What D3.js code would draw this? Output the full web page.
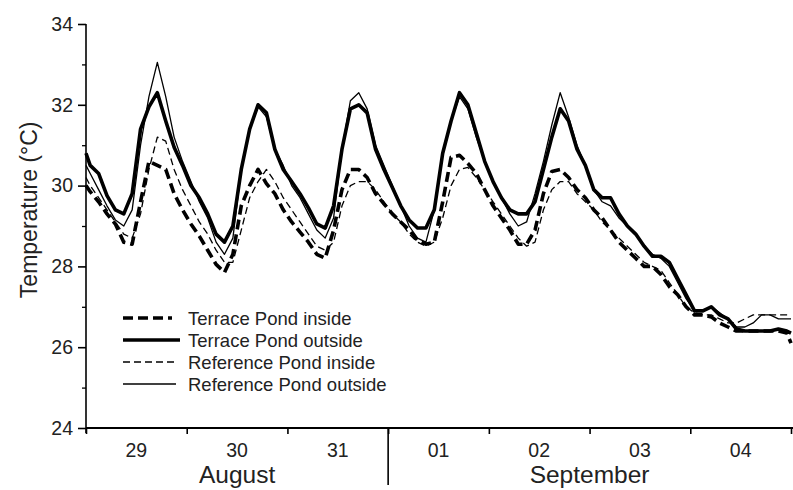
<!DOCTYPE html>
<html>
<head>
<meta charset="utf-8">
<script src="https://cdn.jsdelivr.net/npm/d3@7.9.0/dist/d3.min.js"></script>
<style>
  body { margin: 0; background: #fff; }
  svg { display: block; font-family: "Liberation Sans", Arial, Helvetica, sans-serif; }
</style>
</head>
<body>
<svg id="chart" width="793" height="490"></svg>
<script>
// sample times in hours from 29 Aug 00:00 (0, then every 2 h at odd hours, then 168)
const hours = [0, ...d3.range(1, 168, 2), 168];

const dayLabels = ['29', '30', '31', '01', '02', '03', '04'];
const months = [
  { name: 'August', from: 0, to: 72 },
  { name: 'September', from: 72, to: 168 }
];
const yTicks = [24, 26, 28, 30, 32, 34];
const yMinor = [25, 27, 29, 31, 33];

// Terrace Pond inside (thick dashed)
const terraceInside = [
  30.0, 29.85, 29.6, 29.3, 29.05, 28.6, 28.55, 29.6, 30.6, 30.5, 30.4, 29.8, 29.4,
  29.05, 28.75, 28.4, 28.05, 27.85, 28.3, 29.5, 30.0, 30.4, 30.05, 29.8, 29.4,
  29.1, 28.85, 28.6, 28.3, 28.2, 28.9, 29.9, 30.4, 30.4, 30.2, 29.8, 29.55,
  29.3, 29.1, 28.9, 28.65, 28.55, 28.6, 29.6, 30.7, 30.75, 30.55, 30.3, 29.9,
  29.5, 29.2, 28.9, 28.55, 28.55, 28.9, 29.8, 30.35, 30.4, 30.2, 29.9, 29.7,
  29.4, 29.2, 28.9, 28.6, 28.4, 28.2, 28.0, 28.0, 27.8, 27.5, 27.3, 27.0,
  26.8, 26.8, 26.75, 26.6, 26.5, 26.4, 26.4, 26.4, 26.4, 26.4, 26.4, 26.35, 26.1
];

// Terrace Pond outside (thick solid)
const terraceOutside = [
  30.8, 30.5, 30.3, 29.75, 29.4, 29.3, 29.8, 31.4, 31.95, 32.3, 31.6, 30.95, 30.5,
  30.0, 29.7, 29.3, 28.8, 28.6, 29.0, 30.4, 31.4, 32.0, 31.8, 30.9, 30.4,
  30.1, 29.8, 29.45, 29.05, 28.95, 29.5, 30.9, 31.9, 32.0, 31.8, 30.9, 30.4,
  29.95, 29.5, 29.15, 28.95, 28.95, 29.4, 30.8, 31.6, 32.3, 32.0, 31.3, 30.6,
  30.1, 29.7, 29.4, 29.3, 29.3, 29.6, 30.4, 31.2, 31.9, 31.6, 30.9, 30.5,
  29.9, 29.7, 29.7, 29.3, 29.0, 28.8, 28.5, 28.25, 28.25, 28.1, 27.7, 27.3,
  26.9, 26.9, 27.0, 26.8, 26.7, 26.45, 26.4, 26.4, 26.4, 26.4, 26.45, 26.4, 26.35
];

// Reference Pond inside (thin dashed)
const referenceInside = [
  30.2, 30.0, 29.7, 29.4, 29.1, 28.8, 28.7, 29.3, 30.4, 31.2, 31.1, 30.4, 29.9,
  29.5, 29.1, 28.8, 28.4, 28.1, 28.1, 28.9, 29.7, 30.1, 30.4, 30.1, 29.7,
  29.4, 29.1, 28.8, 28.5, 28.4, 28.6, 29.5, 30.0, 30.1, 30.1, 29.9, 29.6,
  29.3, 29.1, 28.8, 28.6, 28.5, 28.6, 29.2, 30.0, 30.4, 30.45, 30.2, 29.9,
  29.6, 29.3, 29.0, 28.7, 28.5, 28.6, 29.4, 29.9, 30.1, 30.1, 29.8, 29.6,
  29.4, 29.1, 28.9, 28.7, 28.5, 28.3, 28.1, 28.0, 27.9, 27.6, 27.3, 27.0,
  26.85, 26.8, 26.8, 26.7, 26.6, 26.6, 26.7, 26.8, 26.8, 26.8, 26.8, 26.8, 26.8
];

// Reference Pond outside (thin solid)
const referenceOutside = [
  30.5, 30.3, 29.9, 29.5, 29.15, 29.0, 29.4, 31.0, 32.2, 33.05, 32.2, 31.2, 30.6,
  30.1, 29.6, 29.2, 28.6, 28.3, 28.7, 30.4, 31.4, 31.95, 31.7, 30.9, 30.5,
  30.0, 29.7, 29.3, 28.9, 28.7, 29.2, 30.9, 32.1, 32.3, 31.9, 31.0, 30.5,
  30.0, 29.5, 29.0, 28.7, 28.6, 29.4, 30.8, 31.6, 32.2, 31.9, 31.2, 30.6,
  30.1, 29.7, 29.3, 29.0, 29.1, 29.8, 30.6, 31.5, 32.3, 31.7, 31.0, 30.5,
  29.9, 29.6, 29.5, 29.2, 29.0, 28.8, 28.5, 28.3, 28.2, 28.0, 27.6, 27.2,
  26.9, 26.9, 27.0, 26.85, 26.7, 26.5, 26.5, 26.6, 26.8, 26.8, 26.7, 26.7, 26.7
];

const series = [
  { name: 'Terrace Pond inside', values: terraceInside, width: 3.6, dash: '10,5', legendLen: 49 },
  { name: 'Terrace Pond outside', values: terraceOutside, width: 3.6, dash: null, legendLen: 57 },
  { name: 'Reference Pond inside', values: referenceInside, width: 1.3, dash: '7,4', legendLen: 53 },
  { name: 'Reference Pond outside', values: referenceOutside, width: 1.3, dash: null, legendLen: 53 }
];

const svg = d3.select('#chart');
const x = d3.scaleLinear().domain([0, 168]).range([86, 791]);
const y = d3.scaleLinear().domain([24, 34]).range([428, 24]);

// --- lines ---
const line = d3.line()
  .x((d, i) => x(hours[i]))
  .y(d => y(d));

series.forEach(s => {
  svg.append('path')
    .datum(s.values)
    .attr('d', line)
    .attr('fill', 'none')
    .attr('stroke', '#000')
    .attr('stroke-width', s.width)
    .attr('stroke-linejoin', 'round')
    .attr('stroke-dasharray', s.dash);
});

// --- y axis ---
const yAxis = svg.append('g')
  .attr('transform', 'translate(86,0)')
  .call(d3.axisLeft(y).tickValues(yTicks).tickSize(8).tickPadding(5));
yAxis.select('.domain').attr('stroke-width', 1.6).attr('d', 'M0,24V433');
yAxis.selectAll('.tick line').attr('stroke-width', 1.6);
yAxis.selectAll('.tick text')
  .attr('font-size', 19.5)
  .attr('font-family', '"Liberation Sans", Arial, sans-serif')
  .attr('fill', '#222');

svg.append('g')
  .attr('transform', 'translate(86,0)')
  .call(d3.axisLeft(y).tickValues(yMinor).tickSize(4).tickFormat(''))
  .call(g => g.select('.domain').remove())
  .selectAll('.tick line').attr('stroke-width', 1.3);

svg.append('text')
  .attr('transform', `translate(37,${y(29.4)}) rotate(-90)`)
  .attr('text-anchor', 'middle')
  .attr('font-size', 23)
  .attr('fill', '#222')
  .text('Temperature (°C)');

// --- x axis ---
const xAxis = svg.append('g')
  .attr('transform', 'translate(0,428)')
  .call(d3.axisBottom(x).tickValues(d3.range(0, 169, 24)).tickSize(6).tickFormat(''));
xAxis.select('.domain').attr('stroke-width', 2).attr('d', 'M86,0H793');
xAxis.selectAll('.tick line').attr('stroke-width', 1.6);

svg.selectAll('.day')
  .data(dayLabels)
  .enter()
  .append('text')
  .attr('class', 'day')
  .attr('x', (d, i) => x(i * 24 + 12))
  .attr('y', 457)
  .attr('text-anchor', 'middle')
  .attr('font-size', 19.5)
  .attr('fill', '#222')
  .text(d => d);

svg.selectAll('.month')
  .data(months)
  .enter()
  .append('text')
  .attr('class', 'month')
  .attr('x', d => (x(d.from) + x(d.to)) / 2)
  .attr('y', 483)
  .attr('text-anchor', 'middle')
  .attr('font-size', 24.5)
  .attr('fill', '#222')
  .text(d => d.name);

// month separator
svg.append('line')
  .attr('x1', x(72)).attr('x2', x(72))
  .attr('y1', 428).attr('y2', 485)
  .attr('stroke', '#000')
  .attr('stroke-width', 1.6);

// --- legend ---
const legend = svg.append('g').attr('transform', 'translate(123,318)');
series.forEach((s, i) => {
  const row = legend.append('g').attr('transform', `translate(0,${i * 22})`);
  row.append('line')
    .attr('x1', 0).attr('x2', s.legendLen)
    .attr('stroke', '#000')
    .attr('stroke-width', s.width)
    .attr('stroke-dasharray', s.dash);
  row.append('text')
    .attr('x', 65)
    .attr('y', 6.5)
    .attr('font-size', 18.5)
    .attr('fill', '#222')
    .text(s.name);
});
</script>
</body>
</html>
